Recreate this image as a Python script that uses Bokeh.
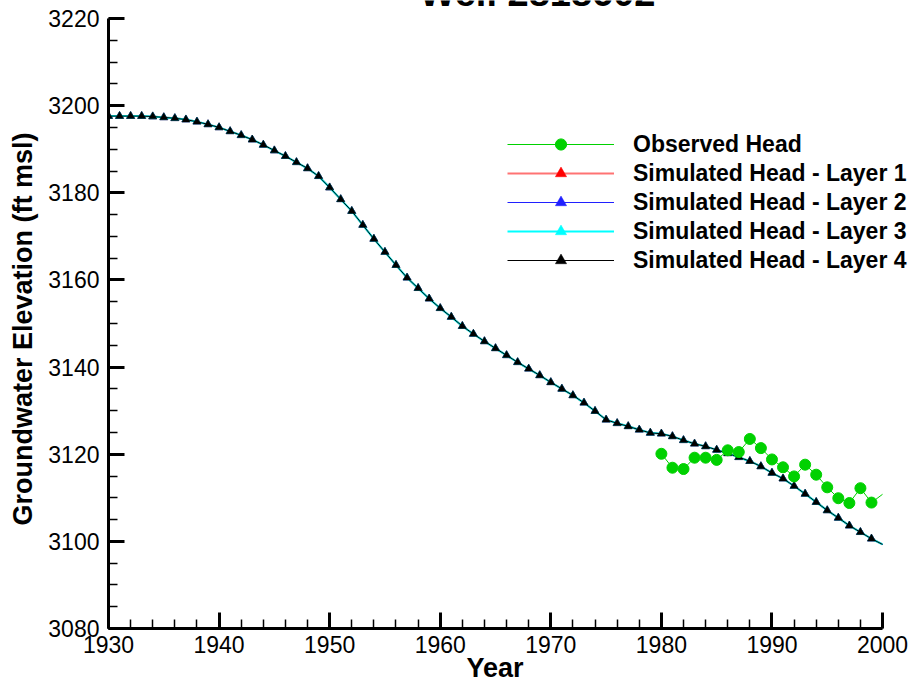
from bokeh.plotting import figure
from bokeh.models import (SingleIntervalTicker, Label, Legend, LegendItem, Range1d, Title)
from bokeh.embed import file_html
from bokeh.resources import INLINE

title_text = "Well 2818602"
x_title = "Year"
y_title = "Groundwater Elevation (ft msl)"

x_axis_span = (1930, 2000)
y_axis_span = (3080, 3220)

sim_years = list(range(1930, 2001))
sim_head = [
    3197.6, 3197.6, 3197.6, 3197.6, 3197.5, 3197.3, 3197.1, 3196.8, 3196.3, 3195.7,
    3195.0, 3194.1, 3193.2, 3192.2, 3191.0, 3189.7, 3188.4, 3187.0, 3185.6, 3183.8,
    3181.2, 3178.5, 3175.8, 3172.6, 3169.4, 3166.4, 3163.4, 3160.5, 3158.1, 3155.7,
    3153.5, 3151.5, 3149.4, 3147.6, 3145.9, 3144.3, 3142.7, 3141.1, 3139.6, 3138.1,
    3136.5, 3135.0, 3133.5, 3131.8, 3129.9, 3127.9, 3127.1, 3126.4, 3125.6, 3124.9,
    3124.7, 3124.1, 3123.2, 3122.4, 3121.8, 3121.0, 3120.2, 3119.3, 3118.4, 3117.2,
    3115.7, 3114.4, 3112.7, 3110.9, 3109.0, 3107.1, 3105.4, 3103.6, 3102.1, 3100.6,
    3099.3,
]
sim_layer1 = list(sim_head)
sim_layer2 = list(sim_head)
sim_layer3 = list(sim_head)
sim_layer4 = list(sim_head)

obs_years = list(range(1980, 2001))
obs_head = [
    3120.1, 3116.9, 3116.6, 3119.2, 3119.2, 3118.7, 3120.9, 3120.5, 3123.5, 3121.4,
    3118.8, 3117.0, 3114.9, 3117.6, 3115.3, 3112.4, 3109.9, 3108.8, 3112.2, 3108.9,
    3110.8,
]

layer_labels = ["Simulated Head - Layer 1", "Simulated Head - Layer 2",
                "Simulated Head - Layer 3", "Simulated Head - Layer 4"]
obs_label = "Observed Head"

FONT = "Liberation Sans"

W, H = 911, 683
LEFT, BOTTOM = 107, 55          # borders around the plotting frame
AX_W, AX_H = 775, 610           # pixel length of the drawn axes
frame_w, frame_h = W - LEFT, H - BOTTOM
xs = (x_axis_span[1] - x_axis_span[0]) / AX_W
ys = (y_axis_span[1] - y_axis_span[0]) / AX_H
x_end = x_axis_span[0] + frame_w * xs
y_end = y_axis_span[0] + frame_h * ys

p = figure(width=W, height=H, output_backend="svg", toolbar_location=None,
           x_range=Range1d(x_axis_span[0], x_end),
           y_range=Range1d(y_axis_span[0], y_end),
           min_border_left=LEFT, min_border_right=0, min_border_top=0,
           min_border_bottom=BOTTOM)
p.outline_line_color = None
p.grid.visible = False
p.background_fill_color = "white"
p.border_fill_color = "white"

p.xaxis.ticker = SingleIntervalTicker(interval=10, num_minor_ticks=5)
p.yaxis.ticker = SingleIntervalTicker(interval=20, num_minor_ticks=4)
p.xaxis.bounds = x_axis_span
p.yaxis.bounds = y_axis_span
for ax in (p.xaxis, p.yaxis):
    ax.axis_line_width = 3
    ax.axis_line_color = "black"
    ax.major_tick_in = 16
    ax.major_tick_out = 0
    ax.minor_tick_in = 9
    ax.minor_tick_out = 0
    ax.major_tick_line_width = 3
    ax.minor_tick_line_width = 1.5
    ax.major_tick_line_color = "black"
    ax.minor_tick_line_color = "black"
    ax.major_label_text_font = FONT
    ax.major_label_text_font_size = "23px"
    ax.major_label_text_color = "black"
p.xaxis.major_label_standoff = 7
p.yaxis.major_label_standoff = 9

# axis titles as side-panel titles (outside the axis tick labels)
p.add_layout(Title(text=x_title, align="left", vertical_align="bottom",
                   offset=358, standoff=-9, text_font=FONT, text_font_style="bold",
                   text_font_size="27px", text_color="black"), "below")
p.add_layout(Title(text=y_title, align="left", vertical_align="middle",
                   offset=103, standoff=13, text_font=FONT, text_font_style="bold",
                   text_font_size="27px", text_color="black"), "left")

layer_colors = ["#ff0000", "#2020ff", "#00ffff", "black"]
layer_line_alpha = [0.55, 1, 1, 1]
layer_widths = [2, 1, 2, 1]
layer_data = [sim_layer1, sim_layer2, sim_layer3, sim_layer4]
items = []
for lbl, col, la, lw, data in zip(layer_labels, layer_colors, layer_line_alpha,
                                  layer_widths, layer_data):
    ln = p.line(sim_years, data, line_color=col, line_alpha=la, line_width=lw)
    mk = p.scatter(sim_years[:-1], data[:-1], marker="triangle", size=8,
                   fill_color=col, line_color=col, line_width=0.5)
    items.append(LegendItem(label=lbl, renderers=[ln, mk]))

obs_col = "#00d100"
oln = p.line(obs_years, obs_head, line_color=obs_col, line_width=1)
omk = p.scatter(obs_years[:-1], obs_head[:-1], marker="circle", size=11,
                fill_color=obs_col, line_color=obs_col)
items.insert(0, LegendItem(label=obs_label, renderers=[oln, omk]))

legend = Legend(items=items, location=(399, 354), orientation="vertical",
                glyph_width=107, glyph_height=28, label_height=28, spacing=1,
                label_standoff=19, padding=0, margin=0,
                border_line_alpha=0, background_fill_alpha=0,
                label_text_font=FONT, label_text_font_style="bold",
                label_text_font_size="23px", label_text_color="black")
p.add_layout(legend, "center")

p.add_layout(Label(x=537, y=13.5, x_units="canvas", y_units="canvas", text=title_text,
                   text_font=FONT, text_font_style="bold", text_font_size="38px",
                   text_align="center", text_baseline="bottom", text_color="black"))

open("out.html", "w").write(file_html(p, INLINE))
